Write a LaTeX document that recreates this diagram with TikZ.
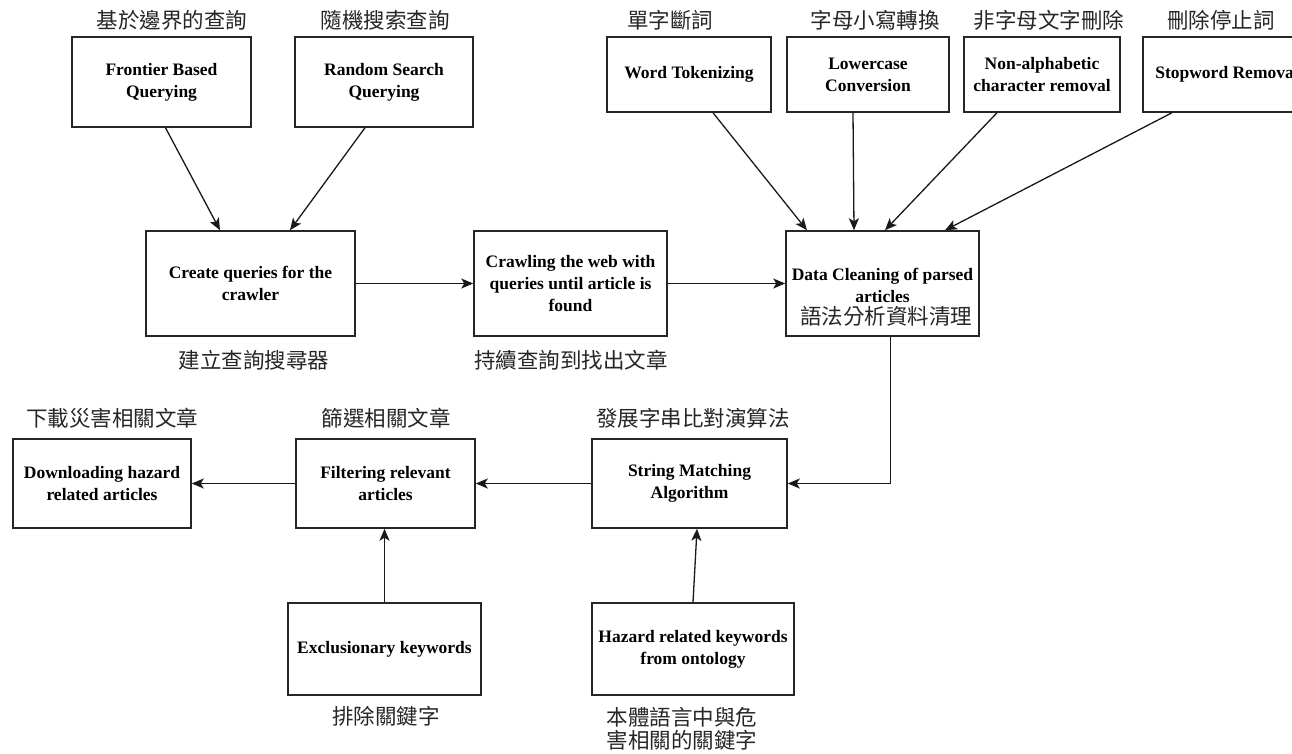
\documentclass[tikz,border=0pt]{standalone}
\usepackage{fontspec}
\setmainfont{Liberation Serif}
\newfontfamily\cjk{Noto Sans CJK TC}
\usetikzlibrary{arrows.meta,calc}
\tikzset{
  box/.style={draw=black!85, line width=1.5pt, inner sep=0pt, align=center, fill=white,
    font=\bfseries\fontsize{17.5}{22}\selectfont},
  lbl/.style={font=\cjk\fontsize{21.5}{22}\selectfont, inner sep=0pt, text=black!85},
  arr/.style={draw=black!90, line width=1.3pt, -{Stealth[length=12pt,width=10pt,inset=3pt]}}
}
\begin{document}
\begin{tikzpicture}[x=1pt,y=-1pt]
\useasboundingbox (0,0) rectangle (1292,754);
\fill[white] (0,0) rectangle (1292,754);
\clip (0,0) rectangle (1292,754);
% top row
\node[box, minimum width=179pt, minimum height=90pt] (fr) at (161.5,82) {Frontier Based\\Querying};
\node[box, minimum width=178pt, minimum height=90pt] (rs) at (384,82) {Random Search\\Querying};
\node[box, minimum width=164pt, minimum height=75pt] (wt) at (689,74.5) {Word Tokenizing};
\node[box, minimum width=162pt, minimum height=75pt] (lc) at (868,74.5) {Lowercase\\Conversion};
\node[box, minimum width=156pt, minimum height=75pt] (na) at (1042,74.5) {Non-alphabetic\\character removal};
\node[box, minimum width=168pt, minimum height=75pt] (sw) at (1227,74.5) {Stopword Removal};
% middle row
\node[box, minimum width=209pt, minimum height=105pt] (cq) at (250.5,283.5) {Create queries for the\\crawler};
\node[box, minimum width=193pt, minimum height=105pt] (cw) at (570.5,283.5) {Crawling the web with\\queries until article is\\found};
\node[box, minimum width=193pt, minimum height=105pt] (dc) at (882.5,283.5) {};
\node[font=\bfseries\fontsize{17.5}{22}\selectfont, align=center, inner sep=0pt] (dct) at (882.5,285) {Data Cleaning of parsed\\articles};
% bottom rows
\node[box, minimum width=178pt, minimum height=89pt] (dl) at (102,483.5) {Downloading hazard\\related articles};
\node[box, minimum width=179pt, minimum height=89pt] (fl) at (385.5,483.5) {Filtering relevant\\articles};
\node[box, minimum width=195pt, minimum height=89pt] (sm) at (689.5,483.5) {String Matching\\Algorithm};
\node[box, minimum width=193pt, minimum height=92pt] (ex) at (384.5,649) {Exclusionary keywords};
\node[box, minimum width=202pt, minimum height=92pt] (hz) at (693,649) {Hazard related keywords\\from ontology};
% labels
\node[lbl] (l1) at (172,20) {基於邊界的查詢};
\node[lbl] (l2) at (385,20) {隨機搜索查詢};
\node[lbl] (l3) at (670,20) {單字斷詞};
\node[lbl] (l4) at (875,20) {字母小寫轉換};
\node[lbl] (l5) at (1049,20) {非字母文字刪除};
\node[lbl] (l6) at (1221,20) {刪除停止詞};
\node[lbl] (l7) at (254,360) {建立查詢搜尋器};
\node[lbl] (l8) at (571,360) {持續查詢到找出文章};
\node[lbl] (l9) at (886,316) {語法分析資料清理};
\node[lbl] (l10) at (112,418) {下載災害相關文章};
\node[lbl] (l11) at (386,418) {篩選相關文章};
\node[lbl] (l12) at (693,418) {發展字串比對演算法};
\node[lbl] (l13) at (386,716) {排除關鍵字};
\node[lbl, align=center, font=\cjk\fontsize{21.5}{22.5}\selectfont] (l14) at (682,729) {本體語言中與危\\害相關的關鍵字};
% connectors
\draw[arr] ([xshift=4pt]fr.south) -- ([xshift=-30.5pt]cq.north);
\draw[arr] ([xshift=-19pt]rs.south) -- ([xshift=39.5pt]cq.north);
\draw[arr] ([xshift=24pt]wt.south) -- ([xshift=-75.5pt]dc.north);
\draw[arr] ([xshift=-15pt]lc.south) -- ([xshift=-28.5pt]dc.north);
\draw[arr] ([xshift=-45pt]na.south) -- ([xshift=2.5pt]dc.north);
\draw[arr] ([xshift=-55pt]sw.south) -- ([xshift=62.5pt]dc.north);
\draw[arr] (cq.east) -- (cw.west);
\draw[arr] (cw.east) -- (dc.west);
\draw[arr] ([xshift=8pt]dc.south) |- (sm.east);
\draw[arr] (sm.west) -- (fl.east);
\draw[arr] (fl.west) -- (dl.east);
\draw[arr] (ex.north) -- (ex.north |- fl.south);
\draw[arr] (hz.north) -- ([xshift=7.5pt]sm.south);
\end{tikzpicture}
\end{document}
